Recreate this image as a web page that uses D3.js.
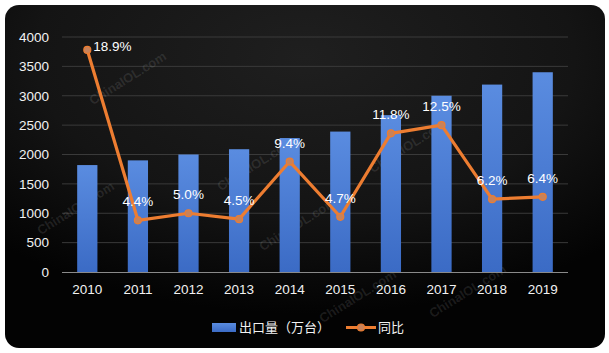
<!DOCTYPE html>
<html><head><meta charset="utf-8">
<script src="https://cdn.jsdelivr.net/npm/d3@7/dist/d3.min.js"></script>
<style>html,body{margin:0;padding:0;background:#fff;}svg{display:block;}</style>
</head><body>
<svg id="c" width="609" height="353"></svg>
<script>
const years = ["2010","2011","2012","2013","2014","2015","2016","2017","2018","2019"];
const exports = [1820,1900,2000,2090,2280,2390,2670,3000,3190,3400];
const growth = [18.9,4.4,5.0,4.5,9.4,4.7,11.8,12.5,6.2,6.4];
const growthLabels = ["18.9%","4.4%","5.0%","4.5%","9.4%","4.7%","11.8%","12.5%","6.2%","6.4%"];
const yTicks = [0,500,1000,1500,2000,2500,3000,3500,4000];
const legendNames = ["出口量（万台）","同比"];

const svg = d3.select("#c");
const font = "'Liberation Sans', Arial, sans-serif";
const defs = svg.append("defs");
const bg = defs.append("radialGradient").attr("id","bg").attr("cx","0.5").attr("cy","0.15").attr("r","0.75");
bg.append("stop").attr("offset","0").attr("stop-color","#1f1f1f");
bg.append("stop").attr("offset","0.6").attr("stop-color","#141414");
bg.append("stop").attr("offset","1").attr("stop-color","#030303");
const bar = defs.append("linearGradient").attr("id","bar").attr("x1",0).attr("y1",0).attr("x2",0).attr("y2",1);
bar.append("stop").attr("offset","0").attr("stop-color","#5a8ce0");
bar.append("stop").attr("offset","1").attr("stop-color","#3b6bc5");

svg.append("rect").attr("x",5).attr("y",5).attr("width",600).attr("height",343).attr("rx",14).attr("fill","url(#bg)");

const x = d3.scaleBand().domain(years).range([62,568]).paddingInner(0.6).paddingOuter(0.3);
const y = d3.scaleLinear().domain([0,4000]).range([272,37]);
const y2 = d3.scaleLinear().domain([0,20]).range([272,37]);
const xc = d => x(d) + x.bandwidth()/2;

// gridlines
svg.append("g").selectAll("line").data(yTicks.filter(t=>t>0)).join("line")
  .attr("x1",62).attr("x2",568).attr("y1",d=>y(d)).attr("y2",d=>y(d))
  .attr("stroke","#3a3a3a").attr("stroke-width",1);

// watermarks
const wm = [[130,82],[78,212],[258,168],[410,150],[300,228],[360,300],[470,295]];
svg.append("g").selectAll("text").data(wm).join("text")
  .attr("transform",d=>`translate(${d[0]},${d[1]}) rotate(-32)`)
  .attr("text-anchor","middle").attr("font-family","Arial, sans-serif").attr("font-weight","bold")
  .attr("font-size",13).attr("fill","#ffffff").attr("fill-opacity",0.1).text("ChinaIOL.com");

// bars
svg.append("g").selectAll("rect").data(years).join("rect")
  .attr("x",d=>x(d)).attr("width",x.bandwidth())
  .attr("y",(d,i)=>y(exports[i])).attr("height",(d,i)=>y(0)-y(exports[i]))
  .attr("fill","url(#bar)");

// axes
const yAxis = svg.append("g").attr("transform","translate(49,0)")
  .call(d3.axisLeft(y).tickValues(yTicks).tickFormat(d3.format("d")).tickSize(0).tickPadding(0));
yAxis.select(".domain").remove();
yAxis.selectAll("text").attr("fill","#f2f2f2").attr("font-size",13.5).attr("font-family",font);

const xAxis = svg.append("g").attr("transform","translate(0,272)")
  .call(d3.axisBottom(x).tickSize(0).tickPadding(12));
xAxis.select(".domain").attr("stroke","#8a8a8a").attr("d","M62,0.5H568");
xAxis.selectAll("text").attr("fill","#f2f2f2").attr("font-size",13.5).attr("font-family",font);

// line
const line = d3.line().x((d,i)=>xc(years[i])).y(d=>y2(d));
svg.append("path").datum(growth).attr("d",line).attr("fill","none")
  .attr("stroke","#ed7d31").attr("stroke-width",3.2).attr("stroke-linejoin","round");
svg.append("g").selectAll("circle").data(growth).join("circle")
  .attr("cx",(d,i)=>xc(years[i])).attr("cy",d=>y2(d)).attr("r",3.5)
  .attr("fill","#c8825a").attr("stroke","#ed7d31").attr("stroke-width",1.2);

// labels
svg.append("g").selectAll("text").data(growth).join("text")
  .attr("x",(d,i)=> i===0 ? xc(years[i])+6 : xc(years[i]))
  .attr("y",(d,i)=> i===0 ? y2(d)+1 : y2(d)-14)
  .attr("text-anchor",(d,i)=> i===0 ? "start" : "middle")
  .attr("font-family",font).attr("font-size",13.5).attr("fill","#ffffff")
  .text((d,i)=>growthLabels[i]);

// legend
const lg = svg.append("g");
lg.append("rect").attr("x",212).attr("y",323).attr("width",24).attr("height",9).attr("fill","url(#bar)");
lg.append("text").attr("x",239).attr("y",332).attr("font-family","'Noto Sans CJK SC', sans-serif").attr("font-size",13).attr("fill","#f2f2f2").text(legendNames[0]);
lg.append("line").attr("x1",346).attr("x2",376).attr("y1",327.5).attr("y2",327.5).attr("stroke","#ed7d31").attr("stroke-width",3);
lg.append("circle").attr("cx",361).attr("cy",327.5).attr("r",3.5).attr("fill","#c8825a").attr("stroke","#ed7d31").attr("stroke-width",1.2);
lg.append("text").attr("x",378).attr("y",332).attr("font-family","'Noto Sans CJK SC', sans-serif").attr("font-size",13).attr("fill","#f2f2f2").text(legendNames[1]);
</script>
</body></html>
